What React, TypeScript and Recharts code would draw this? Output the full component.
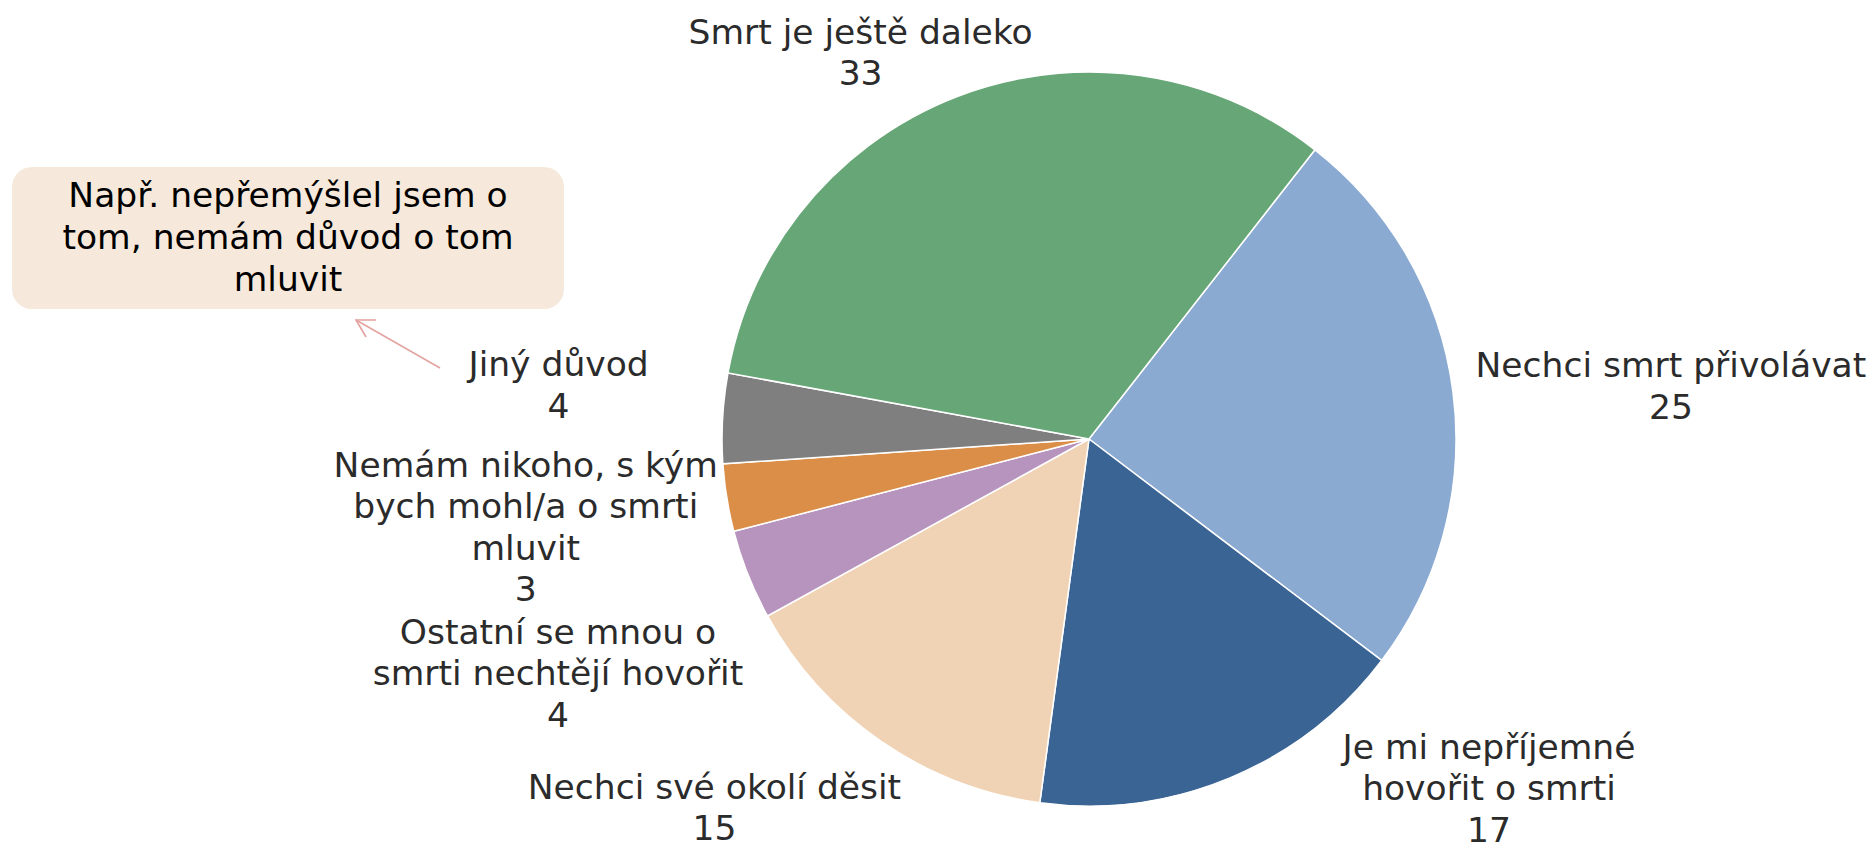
import React from "react";
import { PieChart, Pie, Cell } from "recharts";

const categories = [
  "Nechci smrt přivolávat",
  "Je mi nepříjemné hovořit o smrti",
  "Nechci své okolí děsit",
  "Ostatní se mnou o smrti nechtějí hovořit",
  "Nemám nikoho, s kým bych mohl/a o smrti mluvit",
  "Jiný důvod",
  "Smrt je ještě daleko",
];
const values = [25, 17, 15, 4, 3, 4, 33];
const labelLines = [
  ["Nechci smrt přivolávat"],
  ["Je mi nepříjemné", "hovořit o smrti"],
  ["Nechci své okolí děsit"],
  ["Ostatní se mnou o", "smrti nechtějí hovořit"],
  ["Nemám nikoho, s kým", "bych mohl/a o smrti", "mluvit"],
  ["Jiný důvod"],
  ["Smrt je ještě daleko"],
];
const colors = ["#8AAAD2", "#3A6494", "#F0D2B4", "#B794BD", "#DA8E48", "#7F7F7F", "#67A777"];
const noteLines = ["Např. nepřemýšlel jsem o", "tom, nemám důvod o tom", "mluvit"];

// label placement offsets relative to the slice's outer mid point (layout only)
const labelOffsets: [number, number][] = [
  [218, -14],
  [259, -19],
  [-167, 57],
  [-190, 69],
  [-201, -21],
  [-164, -42],
  [-98, -52],
];

const data = categories.map((name, i) => ({ name, value: values[i] }));
const RAD = Math.PI / 180;
const LH = 41.5;
const FONT = "DejaVu Sans, Verdana, sans-serif";

const renderLabel = (props: any) => {
  const { cx, cy, midAngle, outerRadius, index } = props;
  const ax = cx + outerRadius * Math.cos(-midAngle * RAD);
  const ay = cy + outerRadius * Math.sin(-midAngle * RAD);
  const [dx, dy] = labelOffsets[index];
  const x = ax + dx;
  const y = ay + dy;
  const lines = [...labelLines[index], String(values[index])];
  return (
    <text
      key={`lbl-${index}`}
      x={x}
      y={y}
      textAnchor="middle"
      fill="#2b2b2b"
      fontFamily={FONT}
      fontSize={34.5}
    >
      {lines.map((l, k) => (
        <tspan key={k} x={x} y={y + k * LH}>
          {l}
        </tspan>
      ))}
    </text>
  );
};

export default function App() {
  return (
    <div style={{ position: "absolute", left: 0, top: 0, width: 1875, height: 849, background: "#fff" }}>
      <PieChart width={1875} height={849} margin={{ top: 0, right: 0, bottom: 0, left: 0 }}>
        <Pie
          data={data}
          dataKey="value"
          nameKey="name"
          cx={1089}
          cy={439}
          outerRadius={367}
          startAngle={52}
          endAngle={-308}
          stroke="#ffffff"
          strokeWidth={1.5}
          label={renderLabel}
          labelLine={false}
          isAnimationActive={false}
        >
          {data.map((d, i) => (
            <Cell key={d.name} fill={colors[i]} />
          ))}
        </Pie>
      </PieChart>
      <svg
        width={1875}
        height={849}
        style={{ position: "absolute", left: 0, top: 0, pointerEvents: "none" }}
      >
        <rect x={12} y={167} width={552} height={142} rx={20} ry={20} fill="#F6E9DB" />
        <text textAnchor="middle" fill="#000" fontFamily={FONT} fontSize={34.5}>
          {noteLines.map((l, k) => (
            <tspan key={k} x={288} y={207 + k * 42}>
              {l}
            </tspan>
          ))}
        </text>
        <line x1={440} y1={368} x2={356} y2={320} stroke="#E3A39E" strokeWidth={1.6} />
        <polyline
          points="376,320 356,320 366,337"
          fill="none"
          stroke="#E3A39E"
          strokeWidth={1.6}
        />
      </svg>
    </div>
  );
}
